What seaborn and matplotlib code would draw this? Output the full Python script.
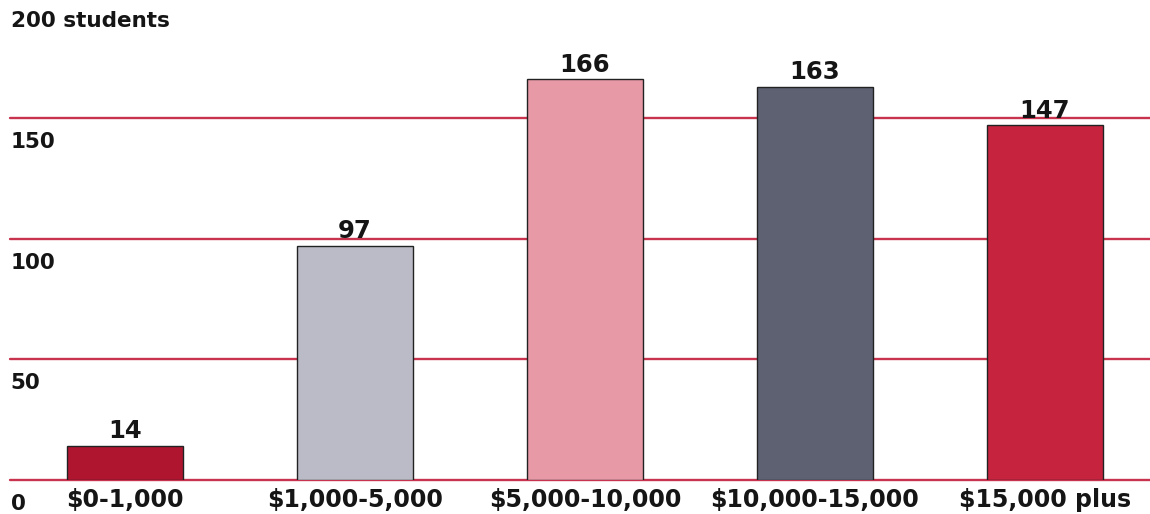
import matplotlib
matplotlib.use("Agg")
import matplotlib.pyplot as plt
import seaborn as sns

categories = ["$0-1,000", "$1,000-5,000", "$5,000-10,000", "$10,000-15,000", "$15,000 plus"]
values = [14, 97, 166, 163, 147]
bar_colors = ["#b01530", "#babbc6", "#e899a6", "#5d6172", "#c6233f"]
y_ticks = [0, 50, 100, 150, 200]
y_tick_labels = ["0", "50", "100", "150", "200 students"]

sns.set_style("white")
plt.rcParams["font.family"] = ["DejaVu Sans"]

W, H = 1150, 514
fig = plt.figure(figsize=(W / 100, H / 100), dpi=100)
ax = fig.add_axes([10 / W, 34 / H, 1140 / W, 482.6 / H])

text_color = "#151515"
grid_color = "#c8344e"

for t in y_ticks:
    ax.axhline(t, color=grid_color, linewidth=1.7, zorder=1, clip_on=False)

sns.barplot(x=categories, y=values, hue=categories, palette=bar_colors,
            width=0.504, edgecolor="#222222", linewidth=1.0, legend=False,
            ax=ax, zorder=3, saturation=1)

ax.set_xlim(-0.5, 4.457)
ax.set_ylim(0, 200)
sns.despine(ax=ax, left=True, bottom=True, top=True, right=True)
ax.set_yticks([])
ax.set_ylabel("")
ax.set_xlabel("")
ax.tick_params(axis="x", length=0, pad=6)
ax.set_xticks(range(len(categories)))
ax.set_xticklabels(categories, fontsize=17, fontweight="bold", color=text_color)

for i, v in enumerate(values):
    ax.annotate(str(v), xy=(i, v), xytext=(0, 2), textcoords="offset points",
                ha="center", va="bottom", fontsize=17.5, fontweight="bold",
                color=text_color, zorder=5)

for t, lab in zip(y_ticks, y_tick_labels):
    ax.annotate(lab, xy=(0, t), xycoords=("axes fraction", "data"),
                xytext=(0.5, -10), textcoords="offset points",
                ha="left", va="top", fontsize=15.5, fontweight="bold",
                color=text_color, annotation_clip=False)

fig.savefig("out.png", dpi=100, facecolor="white")
